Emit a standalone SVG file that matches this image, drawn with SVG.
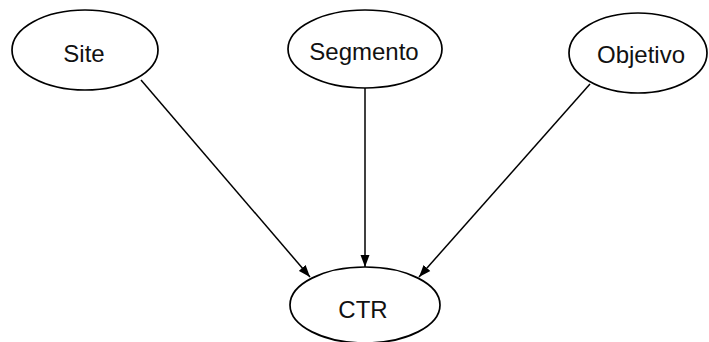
<svg xmlns="http://www.w3.org/2000/svg" width="709" height="342" viewBox="0 0 709 342">
  <style>
    .node ellipse { fill: #ffffff; stroke: #000000; stroke-width: 1.7; }
    .node text { font-family: "Liberation Sans", Arial, sans-serif; font-size: 24px; fill: #111111; text-anchor: middle; }
    .edge { stroke: #000000; stroke-width: 1.5; fill: none; marker-end: url(#arrow); }
  </style>
  <defs>
    <marker id="arrow" viewBox="0 0 12 10" refX="12" refY="5" markerWidth="12" markerHeight="10" markerUnits="userSpaceOnUse" orient="auto">
      <path d="M0,0.5 L12,5 L0,9.5 Z" fill="#000000"/>
    </marker>
  </defs>
  <rect width="709" height="342" fill="#ffffff"/>

  <!-- arrows from the three inputs down into CTR -->
  <g id="connectors">
    <line class="edge" x1="141" y1="80" x2="310" y2="277"/>
    <line class="edge" x1="365" y1="88" x2="365" y2="267"/>
    <line class="edge" x1="590" y1="84" x2="419" y2="277"/>
  </g>

  <g id="site" class="node">
    <ellipse cx="85" cy="50" rx="73" ry="40"/>
    <text x="84" y="62">Site</text>
  </g>
  <g id="segmento" class="node">
    <ellipse cx="365" cy="49" rx="77" ry="39"/>
    <text x="364" y="60">Segmento</text>
  </g>
  <g id="objetivo" class="node">
    <ellipse cx="638" cy="53" rx="69" ry="40"/>
    <text x="641" y="63">Objetivo</text>
  </g>
  <g id="ctr" class="node">
    <ellipse cx="365" cy="305" rx="75" ry="38"/>
    <text x="363" y="318">CTR</text>
  </g>
</svg>
